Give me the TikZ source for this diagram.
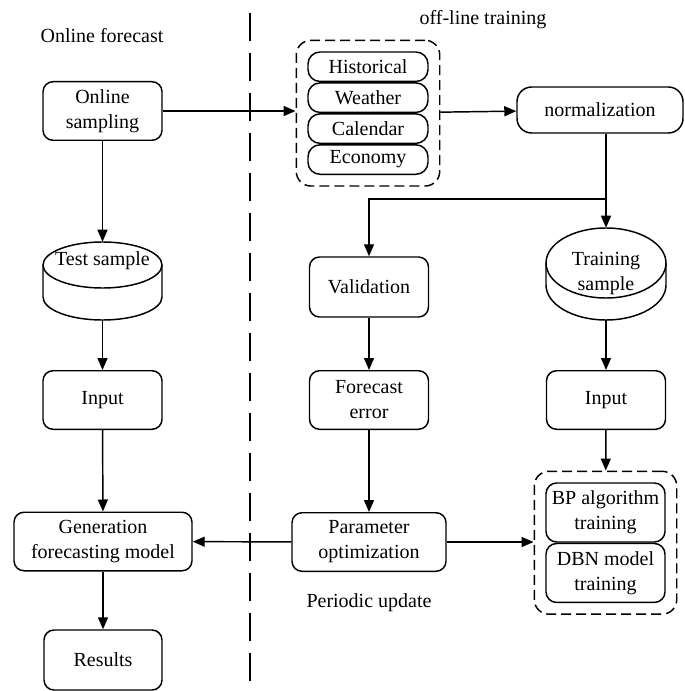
\documentclass[tikz,border=0pt]{standalone}
\usepackage{fontspec}
\setmainfont{Liberation Serif}
\usepackage{tikz}
\usetikzlibrary{positioning, arrows.meta, fit}

\begin{document}
\begin{tikzpicture}[
    x=0.75pt, y=-0.75pt,
    font=\fontsize{15pt}{18.75pt}\selectfont,
    box/.style={draw, line width=1.1pt, rounded corners=7.5pt, minimum width=89.25pt, minimum height=43.9pt, inner sep=2pt, align=center},
    item/.style={draw, line width=1.1pt, rounded corners=9pt, minimum width=90pt, minimum height=22.1pt, inner sep=0pt, align=center},
    group/.style={draw, line width=1.1pt, rounded corners=11pt, dash pattern=on 7.5pt off 3.75pt, inner sep=8.25pt},
    cyl/.style={minimum width=89.25pt, inner sep=0pt, align=center},
    arrow/.style={-{Triangle[length=9pt, width=7.5pt]}, line width=1.1pt}
]
    \useasboundingbox (0,0) rectangle (684,691);

    % Headings and divider
    \node (hdon) at (102,36) {Online forecast};
    \node (hdoff) at (483,20) {off-line training};
    \node (upd) at (369,603) {Periodic update};
    \coordinate (divtop) at (250,13);
    \coordinate (divbot) at (250,691);
    \draw[line width=1.1pt, dash pattern=on 21pt off 9pt] (divtop) -- (divbot);

    % Left column (online forecast)
    \node[box] (onl) at (102.5,111) {Online\\sampling};
    \node[cyl, minimum height=58.5pt] (test) at (102.5,281) {};
    \node (testtxt) at (102.5,261) {Test sample};
    \node[box] (inl) at (102.5,400) {Input};
    \node[box, minimum width=133.5pt] (gen) at (103,541.5) {Generation\\forecasting model};
    \node[box, minimum width=88.5pt, minimum height=45pt] (res) at (103,660) {Results};

    % Data sources
    \node[item] (hist) at (368,66.75) {Historical};
    \node[item, below=0pt of hist] (weath) {Weather};
    \node[item, below=0pt of weath] (cal) {Calendar};
    \node[item, below=0pt of cal] (econ) {Economy};
    \node[group, fit=(hist)(econ)] (srcgrp) {};
    \node[box, minimum width=124.5pt, minimum height=34.5pt, rounded corners=11pt] (norm) at (600,110) {normalization};

    % Middle column
    \node[box, minimum height=45pt] (val) at (369,287) {Validation};
    \node[box] (ferr) at (369,400) {Forecast\\error};
    \node[box, minimum width=115.5pt] (param) at (369,542) {Parameter\\optimization};

    % Right column (off-line training)
    \node[cyl, minimum height=69pt] (train) at (606,274) {Training\\sample};
    \node[box] (inr) at (606,400) {Input};
    \node[item, minimum width=89.25pt, minimum height=44.25pt, rounded corners=8pt] (bp) at (605.5,512.5) {BP algorithm\\training};
    \node[item, minimum width=89.25pt, minimum height=44.25pt, rounded corners=8pt, below=0pt of bp] (dbn) {DBN model\\training};
    \node[group, fit=(bp)(dbn)] (traingrp) {};

    % Cylinders
    \draw[line width=1.1pt] (102.5,265) ellipse [x radius=59.5, y radius=23];
    \draw[line width=1.1pt] (43,265) -- (43,297) arc[start angle=180, end angle=0, x radius=59.5, y radius=23] -- (162,265);
    \draw[line width=1.1pt] (606,263) ellipse [x radius=60, y radius=35];
    \draw[line width=1.1pt] (546,263) -- (546,285) arc[start angle=180, end angle=0, x radius=60, y radius=35] -- (666,263);

    % Arrows
    \coordinate (split) at (606,199);
    \draw[arrow] (onl.east) -- (onl.east -| srcgrp.west);
    \draw[arrow] (srcgrp) -- (norm);
    \draw[arrow] (norm.south -| train) -- (train.north);
    \draw[arrow] (split) -| (val.north);

    \draw[arrow] (onl) -- (test);
    \draw[arrow] (test) -- (inl);
    \draw[arrow] (inl) -- (gen);
    \draw[arrow] (gen) -- (res);

    \draw[arrow] (val) -- (ferr);
    \draw[arrow] (ferr) -- (param);
    \draw[arrow] (param) -- (gen);
    \draw[arrow] (param) -- (param -| traingrp.west);

    \draw[arrow] (train) -- (inr);
    \draw[arrow] (inr) -- (traingrp);
\end{tikzpicture}
\end{document}
